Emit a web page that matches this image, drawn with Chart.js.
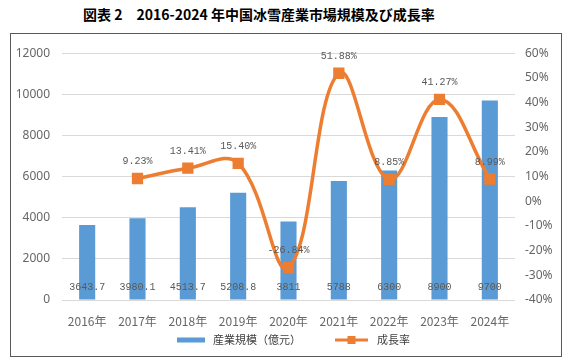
<!DOCTYPE html>
<html>
<head>
<meta charset="utf-8">
<script src="https://cdn.jsdelivr.net/npm/chart.js@4"></script>
<style>
html, body { margin: 0; padding: 0; background: #fff; }
body { width: 568px; height: 363px; position: relative; overflow: hidden; }
#title { position: absolute; left: 83px; top: 4px; font: bold 14px "Noto Sans CJK JP"; color: #000; white-space: nowrap; }
#box { position: absolute; left: 10px; top: 33px; width: 550px; height: 322px; border: 1px solid #595959; }
canvas { display: block; }
</style>
</head>
<body>
<div id="title">図表 2　2016-2024 年中国冰雪産業市場規模及び成長率</div>
<div id="box"><canvas id="chart" width="550" height="322"></canvas></div>
<script>
const years = ['2016年', '2017年', '2018年', '2019年', '2020年', '2021年', '2022年', '2023年', '2024年'];
const marketSize = [3643.7, 3980.1, 4513.7, 5208.8, 3811, 5788, 6300, 8900, 9700];
const growthRate = [null, 9.23, 13.41, 15.40, -26.84, 51.88, 8.85, 41.27, 8.99];
const sizeTicks = { min: 0, max: 12000, step: 2000 };
const rateTicks = { min: -40, max: 60, step: 10 };

const labelFont = '10px "Liberation Mono"';
const tickColor = '#666666';

// draws value labels and the legend (no datalabels plugin available)
const labelsPlugin = {
	id: 'valueLabels',
	afterDatasetsDraw(chart) {
		const ctx = chart.ctx;
		ctx.save();
		ctx.font = labelFont;
		ctx.fillStyle = '#595959';
		ctx.textAlign = 'center';
		ctx.textBaseline = 'middle';

		const barMeta = chart.getDatasetMeta(1);
		const zeroY = chart.scales.y.getPixelForValue(0);
		barMeta.data.forEach((el, i) => {
			ctx.fillText(String(marketSize[i]), el.x, zeroY - 13);
		});

		const lineMeta = chart.getDatasetMeta(0);
		lineMeta.data.forEach((el, i) => {
			if (growthRate[i] === null) return;
			ctx.fillText(growthRate[i].toFixed(2) + '%', el.x, el.y - 17);
		});
		ctx.restore();
	},
	afterDraw(chart) {
		const ctx = chart.ctx;
		ctx.save();
		const ly = 306;
		ctx.fillStyle = '#5B9BD5';
		ctx.fillRect(166, ly - 2.5, 28, 5);
		ctx.font = '11px "Noto Sans CJK JP"';
		ctx.fillStyle = '#404040';
		ctx.textBaseline = 'middle';
		ctx.fillText('産業規模（億元）', 202, ly);

		ctx.strokeStyle = '#ED7D31';
		ctx.lineWidth = 3;
		ctx.beginPath();
		ctx.moveTo(324, ly);
		ctx.lineTo(357, ly);
		ctx.stroke();
		ctx.fillStyle = '#ED7D31';
		ctx.fillRect(336.5, ly - 4, 8, 8);
		ctx.fillStyle = '#404040';
		ctx.fillText('成長率', 366, ly);
		ctx.restore();
	}
};

const ctx = document.getElementById('chart').getContext('2d');

new Chart(ctx, {
	data: {
		labels: years,
		datasets: [
			{
				type: 'line',
				label: '成長率',
				data: growthRate,
				yAxisID: 'y1',
				borderColor: '#ED7D31',
				backgroundColor: '#ED7D31',
				borderWidth: 3.5,
				tension: 0.4,
				pointStyle: 'rect',
				pointRadius: 5.5,
				pointHoverRadius: 5.5,
				order: 0
			},
			{
				type: 'bar',
				label: '産業規模（億元）',
				data: marketSize,
				yAxisID: 'y',
				backgroundColor: '#5B9BD5',
				barPercentage: 0.32,
				categoryPercentage: 1,
				order: 1
			}
		]
	},
	options: {
		responsive: false,
		animation: false,
		layout: { padding: { top: 12, bottom: 26, left: 0, right: 0 } },
		plugins: {
			legend: { display: false },
			tooltip: { enabled: false }
		},
		scales: {
			x: {
				grid: { display: false },
				border: { display: false },
				ticks: { color: tickColor, font: { family: 'Noto Sans CJK JP', size: 12 }, padding: 6 },
				afterFit: s => { s.height = 30; }
			},
			y: {
				position: 'left',
				min: sizeTicks.min,
				max: sizeTicks.max,
				ticks: {
					stepSize: sizeTicks.step,
					color: tickColor,
					font: { family: 'Noto Sans', size: 12 },
					padding: 12,
					callback: v => String(v)
				},
				grid: { color: '#d9d9d9', drawTicks: false },
				border: { display: false },
				afterFit: s => { s.width = 51; }
			},
			y1: {
				position: 'right',
				min: rateTicks.min,
				max: rateTicks.max,
				ticks: {
					stepSize: rateTicks.step,
					color: tickColor,
					font: { family: 'Noto Sans', size: 12 },
					padding: 10,
					callback: v => v + '%'
				},
				grid: { display: false, drawTicks: false },
				border: { display: false },
				afterFit: s => { s.width = 46; }
			}
		}
	},
	plugins: [labelsPlugin]
});
</script>
</body>
</html>
